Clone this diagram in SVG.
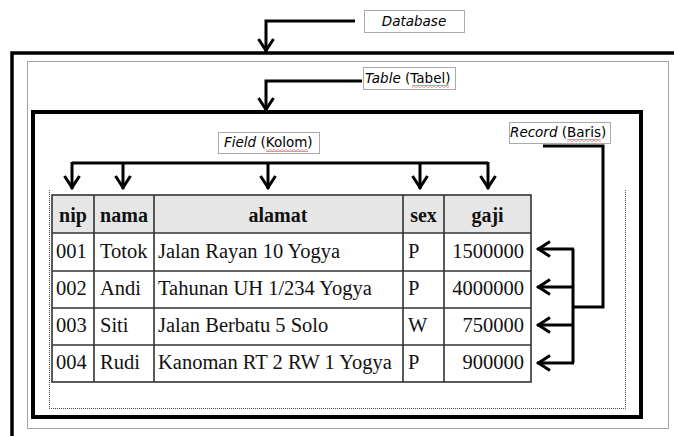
<svg xmlns="http://www.w3.org/2000/svg" width="674" height="436" viewBox="0 0 674 436">
  <style>
    .frame { fill: none; stroke: #000; }
    .dots { fill: none; stroke: #444; stroke-width: 1; stroke-dasharray: 1 1; }
    .tag-box { fill: #fff; stroke: #555; stroke-width: 1; stroke-dasharray: 1 1; }
    .tag { font-family: "DejaVu Sans", sans-serif; font-size: 13.5px; fill: #000; }
    .tag .em { font-style: italic; }
    .link { fill: none; stroke: #000; stroke-width: 3; marker-end: url(#chev); }
    .wire { fill: none; stroke: #000; stroke-width: 3; }
    .grid { fill: none; stroke: #333; stroke-width: 1.6; }
    .head { font-family: "Liberation Serif", "Times New Roman", serif; font-size: 20px; font-weight: bold; fill: #111; text-anchor: middle; }
    .cell { font-family: "Liberation Serif", "Times New Roman", serif; font-size: 20.5px; fill: #111; }
    .num { text-anchor: end; }
  </style>
  <defs>
    <marker id="chev" markerUnits="userSpaceOnUse" viewBox="-16 -10 20 20" markerWidth="20" markerHeight="20" refX="0" refY="0" orient="auto">
      <path d="M-13,-7.5 L-1.5,0 L-13,7.5" fill="none" stroke="#000" stroke-width="3"/>
    </marker>
    <!-- red spell-check squiggle -->
    <pattern id="squiggle" width="4" height="3" patternUnits="userSpaceOnUse">
      <path d="M0,0.6 L2,2.4 L4,0.6" fill="none" stroke="#e02020" stroke-width="0.9"/>
    </pattern>
  </defs>

  <rect width="674" height="436" fill="#fff"/>

  <!-- database frame (runs off the right and bottom edges) -->
  <g id="database">
    <rect class="frame" x="12" y="53" width="720" height="420" stroke-width="3.5"/>
    <rect class="dots" x="27.5" y="61.5" width="641" height="367"/>
  </g>

  <!-- table frame -->
  <g id="table">
    <rect class="frame" x="33" y="112" width="608" height="305" stroke-width="4"/>
    <path class="dots" d="M49.5,190 V408.5 H625.5 V190"/>
  </g>

  <!-- data table -->
  <g id="data-table">
    <rect x="52" y="195" width="479" height="38" fill="#e6e6e6"/>
    <rect class="grid" x="52" y="195" width="479" height="187"/>
    <path class="grid" d="M52,233 H531 M52,271 H531 M52,308 H531 M52,345 H531 M94,195 V382 M154,195 V382 M403,195 V382 M444,195 V382"/>
    <text class="head" x="73" y="222">nip</text>
    <text class="head" x="124" y="222">nama</text>
    <text class="head" x="278" y="222">alamat</text>
    <text class="head" x="423.5" y="222">sex</text>
    <text class="head" x="487.5" y="222">gaji</text>

    <g class="cell">
      <text x="56" y="258">001</text><text x="100" y="258">Totok</text><text x="158" y="258">Jalan Rayan 10 Yogya</text><text x="408" y="258">P</text><text class="num" x="524" y="258">1500000</text>
      <text x="56" y="295">002</text><text x="100" y="295">Andi</text><text x="158" y="295">Tahunan UH 1/234 Yogya</text><text x="408" y="295">P</text><text class="num" x="524" y="295">4000000</text>
      <text x="56" y="332">003</text><text x="100" y="332">Siti</text><text x="158" y="332">Jalan Berbatu 5 Solo</text><text x="408" y="332">W</text><text class="num" x="524" y="332">750000</text>
      <text x="56" y="369">004</text><text x="100" y="369">Rudi</text><text x="158" y="369">Kanoman RT 2 RW 1 Yogya</text><text x="408" y="369">P</text><text class="num" x="524" y="369">900000</text>
    </g>
  </g>

  <!-- labels -->
  <g id="label-database">
    <rect class="tag-box" x="364.5" y="10.5" width="100" height="22"/>
    <text class="tag" x="414" y="26" text-anchor="middle"><tspan class="em">Database</tspan></text>
  </g>
  <g id="label-table">
    <rect class="tag-box" x="363.5" y="67.5" width="92" height="22"/>
    <text class="tag" x="365" y="83"><tspan class="em">Table</tspan> (Tabel)</text>
    <rect x="412" y="85" width="37" height="3" fill="url(#squiggle)"/>
  </g>
  <g id="label-field">
    <rect class="tag-box" x="218.5" y="132.5" width="101" height="21"/>
    <text class="tag" x="224" y="147"><tspan class="em">Field</tspan> (Kolom)</text>
    <rect x="266" y="149" width="42" height="3" fill="url(#squiggle)"/>
  </g>
  <g id="label-record">
    <rect class="tag-box" x="509.5" y="122.5" width="101" height="21"/>
    <text class="tag" x="510" y="137"><tspan class="em">Record</tspan> (Baris)</text>
    <rect x="567" y="139" width="34" height="3" fill="url(#squiggle)"/>
  </g>

  <!-- connectors -->
  <g id="connectors">
    <path class="link" d="M355,21 H266 V52"/>
    <path class="link" d="M362,81 H266 V111"/>
    <path class="wire" d="M72,163 H488"/>
    <path class="link" d="M72,162 V189"/>
    <path class="link" d="M123,163 V189"/>
    <path class="link" d="M268,163 V189"/>
    <path class="link" d="M420,163 V189"/>
    <path class="link" d="M488,162 V189"/>
    <path class="wire" d="M543,146 H603 V307 H573"/>
    <path class="wire" d="M573,249 V363"/>
    <path class="link" d="M574,249 H537"/>
    <path class="link" d="M574,287 H537"/>
    <path class="link" d="M574,325 H537"/>
    <path class="link" d="M574,363 H537"/>
  </g>
</svg>
